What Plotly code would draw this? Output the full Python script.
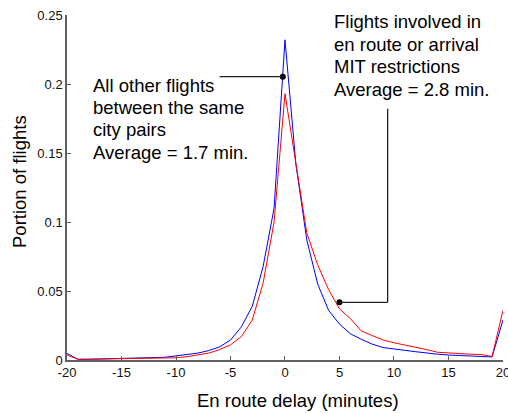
import plotly.graph_objects as go

# ---------------- data ----------------
delay_min = list(range(-20, 21))

other_flights = [
    0.0048, 0.0005, 0.0005, 0.0007, 0.0010, 0.0012, 0.0012, 0.0012, 0.0015, 0.0020,
    0.0030, 0.0038, 0.0050, 0.0068, 0.0095, 0.0145, 0.0240, 0.0390, 0.0680, 0.1100,
    0.2320,
    0.1420, 0.0870, 0.0550, 0.0360, 0.0260, 0.0190, 0.0150, 0.0115, 0.0090, 0.0078,
    0.0070, 0.0060, 0.0050, 0.0042, 0.0036, 0.0032, 0.0030, 0.0026, 0.0022, 0.0290,
]

mit_flights = [
    0.0036, 0.0005, 0.0006, 0.0007, 0.0009, 0.0010, 0.0011, 0.0010, 0.0012, 0.0014,
    0.0016, 0.0024, 0.0035, 0.0050, 0.0075, 0.0110, 0.0170, 0.0290, 0.0560, 0.1000,
    0.1930,
    0.1420, 0.0920, 0.0690, 0.0510, 0.0370, 0.0300, 0.0210, 0.0180, 0.0145, 0.0125,
    0.0110, 0.0090, 0.0075, 0.0056, 0.0050, 0.0045, 0.0042, 0.0040, 0.0025, 0.0360,
]

x_ticks = [-20, -15, -10, -5, 0, 5, 10, 15, 20]
x_tick_labels = ["-20", "-15", "-10", "-5", "0", "5", "10", "15", "20"]
y_ticks = [0, 0.05, 0.1, 0.15, 0.2, 0.25]
y_tick_labels = ["0", "0.05", "0.1", "0.15", "0.2", "0.25"]

other_text = ["All other flights", "between the same", "city pairs", "Average = 1.7 min."]
mit_text = ["Flights involved in", "en route or arrival", "MIT restrictions", "Average = 2.8 min."]

x_title = "En route delay (minutes)"
y_title = "Portion of flights"

# ---------------- layout constants ----------------
W, H = 508, 413
L, R, T, B = 67, 5, 15, 53
PW, PH = W - L - R, H - T - B
FONT = "Liberation Sans, Arial, sans-serif"


def px_x(px):
    return (px - L) / PW


def px_y(py):
    return (H - B - py) / PH


fig = go.Figure()

fig.add_trace(go.Scatter(x=delay_min, y=other_flights, mode="lines",
                         line=dict(color="#0000ff", width=1), showlegend=False))
fig.add_trace(go.Scatter(x=delay_min, y=mit_flights, mode="lines",
                         line=dict(color="#ff0000", width=1), showlegend=False))

# callout leader lines
leader = dict(color="#222222", width=1.3)
fig.add_shape(type="line", xref="x", yref="y", x0=-6.0, y0=0.2053, x1=-0.2, y1=0.2053, line=leader)
fig.add_shape(type="line", xref="x", yref="y", x0=5.0, y0=0.0418, x1=9.42, y1=0.0418, line=leader)
fig.add_shape(type="line", xref="x", yref="y", x0=9.42, y0=0.0418, x1=9.42, y1=0.182, line=leader)

fig.add_trace(go.Scatter(x=[-0.2, 5.0], y=[0.2053, 0.0418], mode="markers",
                         marker=dict(color="black", size=6), cliponaxis=False,
                         showlegend=False))

annotations = []
for i, line in enumerate(other_text):
    annotations.append(dict(text=line, xref="paper", yref="paper",
                            x=px_x(91.5), y=px_y(85.5 + 22.2 * i),
                            xanchor="left", yanchor="middle", showarrow=False,
                            borderpad=0, font=dict(family=FONT, size=18.5, color="#000")))
for i, line in enumerate(mit_text):
    annotations.append(dict(text=line, xref="paper", yref="paper",
                            x=px_x(333.0), y=px_y(21.2 + 22.8 * i),
                            xanchor="left", yanchor="middle", showarrow=False,
                            borderpad=0, font=dict(family=FONT, size=18.5, color="#000")))
annotations.append(dict(text=x_title, xref="paper", yref="paper",
                        x=px_x(297.5), y=px_y(400), xanchor="center", yanchor="middle",
                        showarrow=False, borderpad=0,
                        font=dict(family=FONT, size=18.5, color="#000")))
annotations.append(dict(text=y_title, xref="paper", yref="paper",
                        x=px_x(19), y=px_y(182), xanchor="center", yanchor="middle",
                        textangle=-90, showarrow=False, borderpad=0,
                        font=dict(family=FONT, size=18.5, color="#000")))

axis_common = dict(showline=True, linecolor="#606060", linewidth=1.5,
                   ticks="inside", ticklen=4, tickcolor="#606060", tickwidth=1,
                   showgrid=False, zeroline=False, mirror=False,
                   ticklabeloverflow="allow", automargin=False,
                   tickfont=dict(family=FONT, size=13, color="#111"))

fig.update_layout(
    width=W, height=H,
    margin=dict(l=L, r=R, t=T, b=B, autoexpand=False),
    paper_bgcolor="white", plot_bgcolor="white",
    xaxis=dict(range=[-20, 20.001], tickvals=x_ticks, ticktext=x_tick_labels, **axis_common),
    yaxis=dict(range=[0, 0.25], tickvals=y_ticks, ticktext=y_tick_labels, **axis_common),
    annotations=annotations,
)

fig.write_html("out.html")
